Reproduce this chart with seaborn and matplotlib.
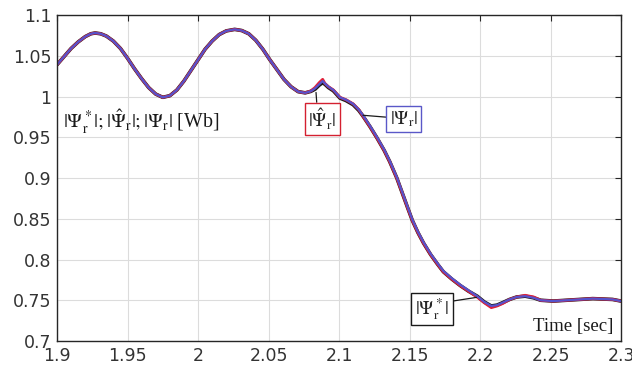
import matplotlib
matplotlib.use("Agg")
import matplotlib.pyplot as plt
import seaborn as sns
import pandas as pd

# ---- data ----
time = [1.900, 1.905, 1.910, 1.915, 1.920, 1.924, 1.927, 1.931, 1.935, 1.940,
        1.945, 1.950, 1.955, 1.960, 1.965, 1.970, 1.975, 1.980, 1.985, 1.990,
        1.995, 2.000, 2.005, 2.010, 2.015, 2.020, 2.026, 2.031, 2.036, 2.041,
        2.046, 2.051, 2.056, 2.061, 2.066, 2.071, 2.076, 2.080, 2.083, 2.086,
        2.0884, 2.090, 2.0925, 2.096, 2.1007, 2.105, 2.110, 2.114, 2.117, 2.122,
        2.127, 2.132, 2.136, 2.141, 2.145, 2.149, 2.152, 2.156, 2.160, 2.165,
        2.170, 2.174, 2.180, 2.186, 2.192, 2.198, 2.203, 2.208, 2.212, 2.216,
        2.221, 2.226, 2.232, 2.238, 2.243, 2.252, 2.266, 2.280, 2.294, 2.300]

psi_act = [1.039, 1.049, 1.059, 1.067, 1.0735, 1.0770, 1.078, 1.0770, 1.0742, 1.068,
           1.059, 1.047, 1.034, 1.022, 1.011, 1.003, 0.999, 1.001, 1.008, 1.019,
           1.032, 1.045, 1.058, 1.068, 1.076, 1.0805, 1.0824, 1.081, 1.077, 1.069,
           1.058, 1.045, 1.033, 1.021, 1.012, 1.006, 1.0045, 1.0065, 1.010, 1.015,
           1.019, 1.016, 1.012, 1.008, 0.999, 0.996, 0.991, 0.984, 0.977, 0.964,
           0.950, 0.935, 0.921, 0.901, 0.882, 0.863, 0.849, 0.834, 0.821, 0.807,
           0.795, 0.786, 0.777, 0.769, 0.762, 0.755, 0.748, 0.743, 0.744, 0.747,
           0.751, 0.754, 0.755, 0.753, 0.750, 0.749, 0.7505, 0.752, 0.751, 0.749]

psi_est = [1.039, 1.049, 1.059, 1.067, 1.0735, 1.0770, 1.078, 1.0770, 1.0742, 1.068,
           1.059, 1.047, 1.034, 1.022, 1.011, 1.003, 0.999, 1.001, 1.008, 1.019,
           1.032, 1.045, 1.058, 1.068, 1.076, 1.0805, 1.0824, 1.081, 1.077, 1.069,
           1.058, 1.045, 1.033, 1.021, 1.012, 1.006, 1.0045, 1.0068, 1.011, 1.017,
           1.021, 1.016, 1.012, 1.008, 0.999, 0.996, 0.991, 0.984, 0.976, 0.963,
           0.949, 0.934, 0.920, 0.900, 0.881, 0.862, 0.848, 0.833, 0.820, 0.806,
           0.794, 0.785, 0.776, 0.768, 0.761, 0.754, 0.747, 0.741, 0.743, 0.746,
           0.751, 0.754, 0.756, 0.754, 0.750, 0.749, 0.7505, 0.752, 0.751, 0.749]

psi_ref = [1.039, 1.049, 1.059, 1.067, 1.0735, 1.0770, 1.078, 1.0770, 1.0742, 1.068,
           1.059, 1.047, 1.034, 1.022, 1.011, 1.003, 0.999, 1.001, 1.008, 1.019,
           1.032, 1.045, 1.058, 1.068, 1.076, 1.0805, 1.0824, 1.081, 1.077, 1.069,
           1.058, 1.045, 1.033, 1.021, 1.012, 1.006, 1.0045, 1.0063, 1.009, 1.014,
           1.017, 1.015, 1.011, 1.007, 0.998, 0.995, 0.990, 0.983, 0.976, 0.963,
           0.949, 0.934, 0.920, 0.900, 0.881, 0.862, 0.848, 0.833, 0.820, 0.806,
           0.794, 0.785, 0.776, 0.768, 0.761, 0.755, 0.748, 0.743, 0.744, 0.747,
           0.751, 0.754, 0.755, 0.753, 0.750, 0.749, 0.7505, 0.752, 0.751, 0.749]

xticks = [1.9, 1.95, 2.0, 2.05, 2.1, 2.15, 2.2, 2.25, 2.3]
xticklabels = ["1.9", "1.95", "2", "2.05", "2.1", "2.15", "2.2", "2.25", "2.3"]
yticks = [0.7, 0.75, 0.8, 0.85, 0.9, 0.95, 1.0, 1.05, 1.1]
yticklabels = ["0.7", "0.75", "0.8", "0.85", "0.9", "0.95", "1", "1.05", "1.1"]

df = pd.DataFrame({"t": time, "ref": psi_ref, "est": psi_est, "act": psi_act})

sns.set_style("whitegrid")
plt.rcParams["mathtext.fontset"] = "stix"
plt.rcParams["font.family"] = ["DejaVu Sans"]

fig = plt.figure(figsize=(6.32, 3.76), dpi=100)
ax = fig.add_axes([0.0902, 0.0931, 0.8924, 0.8669])

sns.lineplot(data=df, x="t", y="ref", ax=ax, color="#1a1a1a", lw=2.6)
sns.lineplot(data=df, x="t", y="est", ax=ax, color="#e0203a", lw=2.1)
sns.lineplot(data=df, x="t", y="act", ax=ax, color="#5553cc", lw=1.6)

ax.set_xlim(1.9, 2.3)
ax.set_ylim(0.7, 1.1)
ax.set_xticks(xticks)
ax.set_xticklabels(xticklabels)
ax.set_yticks(yticks)
ax.set_yticklabels(yticklabels)
ax.set_xlabel("")
ax.set_ylabel("")
ax.grid(True, color="#dcdcdc", lw=0.8)
for s in ax.spines.values():
    s.set_color("#262626")
    s.set_linewidth(1.0)
ax.tick_params(direction="in", top=True, right=True, length=4, width=0.8,
               colors="#262626", labelsize=12.5, labelcolor="#333333", pad=4)

serif = ["Liberation Serif", "DejaVu Serif"]
ax.text(0.0106, 0.672,
        r"$|\Psi_\mathrm{r}^*|;|\hat{\Psi}_\mathrm{r}|;|\Psi_\mathrm{r}|$ [Wb]",
        transform=ax.transAxes, ha="left", va="center", fontsize=14.3,
        family=serif, color="#1a1a1a")

ax.annotate(r"$|\hat{\Psi}_\mathrm{r}|$", xy=(2.0837, 1.005), xycoords="data",
            xytext=(0.470, 0.681), textcoords="axes fraction",
            ha="center", va="center", fontsize=13.8, family=serif,
            bbox=dict(boxstyle="square,pad=0.18", fc="white", ec="#d42030", lw=1.0),
            arrowprops=dict(arrowstyle="-", color="#1a1a1a", lw=0.9,
                            shrinkA=0, shrinkB=0, relpos=(0.32, 1.0)))

ax.annotate(r"$|\Psi_\mathrm{r}|$", xy=(2.117, 0.977), xycoords="data",
            xytext=(0.615, 0.681), textcoords="axes fraction",
            ha="center", va="center", fontsize=13.8, family=serif,
            bbox=dict(boxstyle="square,pad=0.18", fc="white", ec="#5a58c8", lw=1.0),
            arrowprops=dict(arrowstyle="-", color="#1a1a1a", lw=0.9,
                            shrinkA=0, shrinkB=0, relpos=(0.0, 0.58)))

ax.annotate(r"$|\Psi_\mathrm{r}^*|$", xy=(2.1975, 0.7535), xycoords="data",
            xytext=(0.665, 0.098), textcoords="axes fraction",
            ha="center", va="center", fontsize=13.8, family=serif,
            bbox=dict(boxstyle="square,pad=0.18", fc="white", ec="#1a1a1a", lw=1.0),
            arrowprops=dict(arrowstyle="-", color="#1a1a1a", lw=0.9,
                            shrinkA=0, shrinkB=0, relpos=(1.0, 0.79)))

ax.text(0.986, 0.046, "Time [sec]", transform=ax.transAxes, ha="right",
        va="center", fontsize=13.5, family=serif, color="#1a1a1a")

fig.savefig("out.png", dpi=100)
